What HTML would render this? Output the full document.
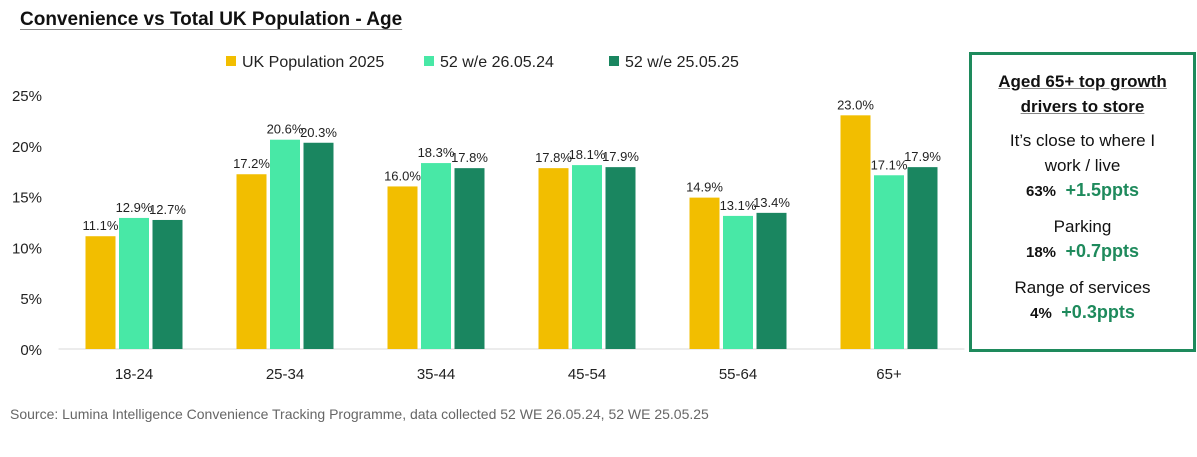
<!DOCTYPE html>
<html><head><meta charset="utf-8"><style>
body{margin:0;width:1197px;height:457px;background:#fff;font-family:"Liberation Sans",sans-serif;overflow:hidden;position:relative}
.t{position:absolute}
</style></head><body>
<div class="t" style="left:20px;top:9px;font-size:19px;font-weight:bold;color:#111;text-decoration:underline;text-decoration-color:#888;text-underline-offset:4px">Convenience vs Total UK Population - Age</div>
<svg id="c" width="1197" height="457" style="position:absolute;left:0;top:0"></svg>
<div class="t" style="left:969px;top:52px;width:221px;height:294px;border:3px solid #1e8a5c;text-align:center;font-size:17px;color:#111;line-height:25px">
<div style="margin-top:14px;font-weight:bold;text-decoration:underline;text-decoration-color:#888">Aged 65+ top growth<br>drivers to store</div>
<div style="margin-top:9px">It’s close to where I<br>work / live<br><b style="font-size:15px">63%</b>&nbsp; <b style="color:#1e8a5c;font-size:18px">+1.5ppts</b></div>
<div style="margin-top:10px">Parking<br><b style="font-size:15px">18%</b>&nbsp; <b style="color:#1e8a5c;font-size:18px">+0.7ppts</b></div>
<div style="margin-top:10px">Range of services<br><b style="font-size:15px">4%</b>&nbsp; <b style="color:#1e8a5c;font-size:18px">+0.3ppts</b></div>
</div>
<div class="t" style="left:10px;top:406px;font-size:14px;color:#666">Source: Lumina Intelligence Convenience Tracking Programme, data collected 52 WE 26.05.24, 52 WE 25.05.25</div>
<script>
const categories=["18-24","25-34","35-44","45-54","55-64","65+"];
const ukPop=[11.1,17.2,16.0,17.8,14.9,23.0];
const w2024=[12.9,20.6,18.3,18.1,13.1,17.1];
const w2025=[12.7,20.3,17.8,17.9,13.4,17.9];
const seriesNames=["UK Population 2025","52 w/e 26.05.24","52 w/e 25.05.25"];
const yTicks=[0,5,10,15,20,25];
const colors=["#F2BE00","#48E8A6","#1A8660"];
const svg=document.getElementById('c');const NS="http://www.w3.org/2000/svg";
const x0=58.5,x1=964.5,yB=349,yT=95,yMax=25;
const y=v=>yB-(v/yMax)*(yB-yT);
const step=(x1-x0)/categories.length;
const xc=i=>x0+step*(i+0.5);
function mk(t,a){const e=document.createElementNS(NS,t);for(const k in a)e.setAttribute(k,a[k]);svg.appendChild(e);return e;}
yTicks.forEach(v=>{const e=mk('text',{x:42,y:y(v)+6,'text-anchor':'end','font-size':15,fill:'#222'});e.textContent=v+'%';

});
const base=mk('line',{x1:x0,x2:x1,y1:yB,y2:yB,stroke:'#d9d9d9'});


const series=[ukPop,w2024,w2025];const bw=30,gap=3.5;
categories.forEach((c,i)=>{
 const t=mk('text',{x:xc(i),y:yB+30,'text-anchor':'middle','font-size':15,fill:'#222'});t.textContent=c;
 
 
 series.forEach((s,j)=>{
  const cx=xc(i)+(j-1)*(bw+gap);
  const r=mk('rect',{x:cx-bw/2,y:y(s[i]),width:bw,height:yB-y(s[i]),fill:colors[j]});
  
  
  const l=mk('text',{x:cx,y:y(s[i])-6,'text-anchor':'middle','font-size':13,fill:'#222'});l.textContent=s[i].toFixed(1)+'%';
  
  
 });
});
const lx=[226,424,609];
seriesNames.forEach((n,j)=>{
 const r=mk('rect',{x:lx[j],y:56,width:10,height:10,fill:colors[j]});
 
 
 const t=mk('text',{x:lx[j]+16,y:67,'font-size':16,fill:'#222'});t.textContent=n;
 
 
});
</script>
</body></html>
